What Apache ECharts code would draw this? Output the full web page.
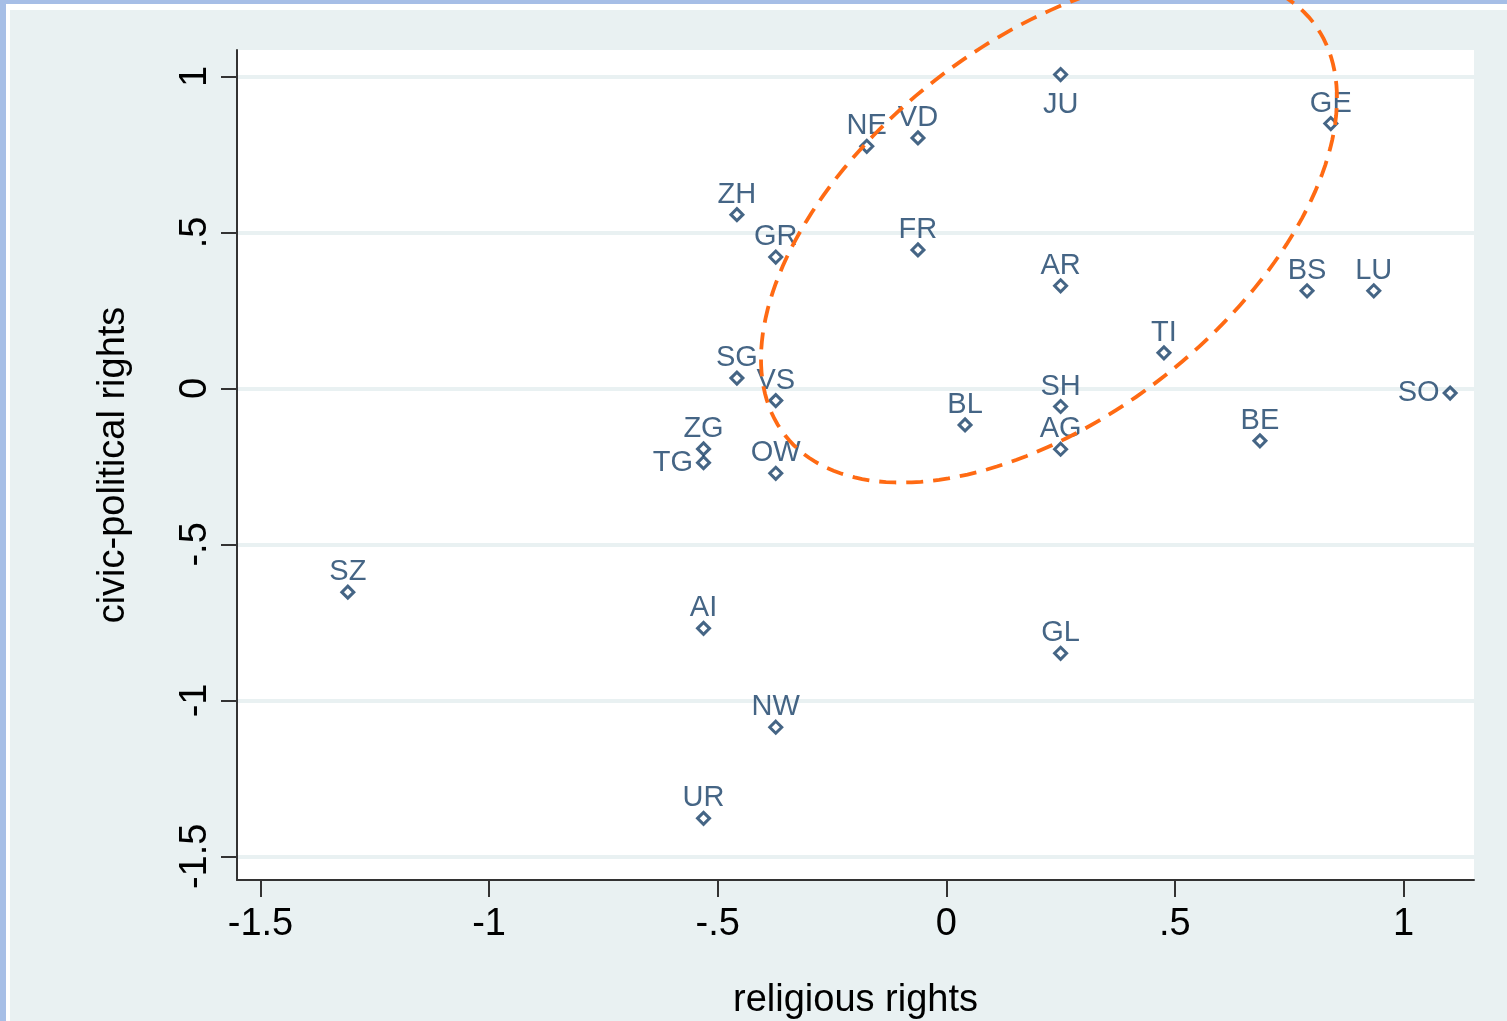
<!DOCTYPE html>
<html>
<head>
<meta charset="utf-8">
<script src="https://cdn.jsdelivr.net/npm/echarts@6/dist/echarts.min.js"></script>
<style>
html, body { margin: 0; padding: 0; }
.layer { position: absolute; }
#blue { left: 0; top: 0; width: 1507px; height: 1021px; background: #a6bee6; }
#white { left: 6px; top: 4px; width: 1501px; height: 1017px; background: #ffffff; }
#bg { left: 10px; top: 10px; width: 1497px; height: 1011px; background: #e9f1f2; }
#chart { left: 0; top: 0; width: 1507px; height: 1021px; }
</style>
</head>
<body>
<div id="blue" class="layer"></div>
<div id="white" class="layer"></div>
<div id="bg" class="layer"></div>
<div id="chart" class="layer"></div>
<script>
// cantons
const cantons = ['JU', 'GE', 'NE', 'VD', 'ZH', 'GR', 'FR', 'AR', 'BS', 'LU', 'TI', 'SG', 'VS', 'SO',
  'BL', 'SH', 'AG', 'BE', 'ZG', 'TG', 'OW', 'SZ', 'AI', 'GL', 'NW', 'UR']
// religious rights (x)
const religious = [0.25, 0.841, -0.174, -0.062, -0.458, -0.373, -0.062, 0.25, 0.789, 0.935, 0.476, -0.458, -0.373, 1.102,
  0.041, 0.25, 0.25, 0.686, -0.531, -0.531, -0.373, -1.309, -0.531, 0.25, -0.373, -0.531]
// civic-political rights (y)
const civic = [1.006, 0.849, 0.776, 0.803, 0.557, 0.421, 0.444, 0.329, 0.313, 0.313, 0.114, 0.033, -0.039, -0.015,
  -0.117, -0.058, -0.195, -0.168, -0.194, -0.238, -0.272, -0.653, -0.769, -0.849, -1.086, -1.378]

const ticks = [-1.5, -1, -0.5, 0, 0.5, 1]

// dashed ellipse: centre and two semi-axis vectors in data units
const ellCenter = [0.2246, 0.5119]
const ellMajor = [0.5774, 0.6621]
const ellMinor = [-0.2518, 0.4730]

const navy = '#173f66'
const font = '"Liberation Sans", Arial, sans-serif'

// labels that are not above the marker
const labelSide = { JU: 'bottom', TG: 'left', SO: 'left' }
const labelDist = { top: -2, bottom: 8, left: 3 }

const fmt = v => {
  if (v === 0) return '0'
  let s = String(v)
  return s.replace(/^0\./, '.').replace(/^-0\./, '-.')
}

const points = cantons.map((c, i) => {
  const side = labelSide[c] || 'top'
  return {
    name: c,
    value: [religious[i], civic[i]],
    label: { position: side, distance: labelDist[side] }
  }
})

const chart = echarts.init(document.getElementById('chart'), null, { renderer: 'canvas' })

chart.setOption({
  backgroundColor: 'transparent',
  animation: false,
  grid: { left: 237, right: 33, top: 50, bottom: 141, containLabel: false, outerBoundsMode: 'none' },
  xAxis: {
    type: 'value',
    min: -1.5514,
    max: 1.1542,
    name: 'religious rights',
    nameLocation: 'middle',
    nameGap: 102,
    nameTextStyle: { fontFamily: font, fontSize: 38, color: '#000' },
    axisLine: { show: true, onZero: false, lineStyle: { color: '#333', width: 2 } },
    axisTick: { show: true, customValues: ticks, length: 17, lineStyle: { color: '#333', width: 2 } },
    axisLabel: { customValues: ticks, formatter: fmt, fontFamily: font, fontSize: 38, color: '#000', margin: 26 },
    splitLine: { show: false }
  },
  yAxis: {
    type: 'value',
    min: -1.5757,
    max: 1.0847,
    name: 'civic-political rights',
    nameLocation: 'middle',
    nameGap: 104,
    nameRotate: 90,
    nameTextStyle: { fontFamily: font, fontSize: 38, color: '#000' },
    axisLine: { show: true, onZero: false, lineStyle: { color: '#333', width: 2 } },
    axisTick: { show: true, customValues: ticks, length: 16, lineStyle: { color: '#333', width: 2 } },
    axisLabel: { customValues: ticks, formatter: fmt, rotate: 90, fontFamily: font, fontSize: 38, color: '#000', margin: 22 },
    splitLine: { show: true, lineStyle: { color: '#e9f1f2', width: 4 } }
  },
  graphic: [{
    type: 'rect',
    z: -10,
    shape: { x: 237, y: 50, width: 1237, height: 830 },
    style: { fill: '#ffffff' },
    silent: true
  }],
  series: [
    {
      type: 'scatter',
      data: points,
      symbol: 'diamond',
      symbolSize: 12,
      itemStyle: { color: '#ffffff', borderColor: navy, borderWidth: 3 },
      label: {
        show: true,
        formatter: '{b}',
        fontFamily: font,
        fontSize: 29,
        color: navy
      },
      z: 3
    },
    {
      type: 'custom',
      coordinateSystem: 'cartesian2d',
      clip: false,
      silent: true,
      z: 10,
      data: [ellCenter],
      renderItem: (params, api) => {
        const pts = []
        for (let k = 0; k <= 180; k++) {
          const t = (k / 180) * Math.PI * 2
          const x = ellCenter[0] + ellMajor[0] * Math.cos(t) + ellMinor[0] * Math.sin(t)
          const y = ellCenter[1] + ellMajor[1] * Math.cos(t) + ellMinor[1] * Math.sin(t)
          pts.push(api.coord([x, y]))
        }
        return {
          type: 'polyline',
          shape: { points: pts },
          style: { stroke: '#ff6a13', lineWidth: 3.8, lineDash: [17, 10], fill: null }
        }
      }
    }
  ]
})
</script>
</body>
</html>
